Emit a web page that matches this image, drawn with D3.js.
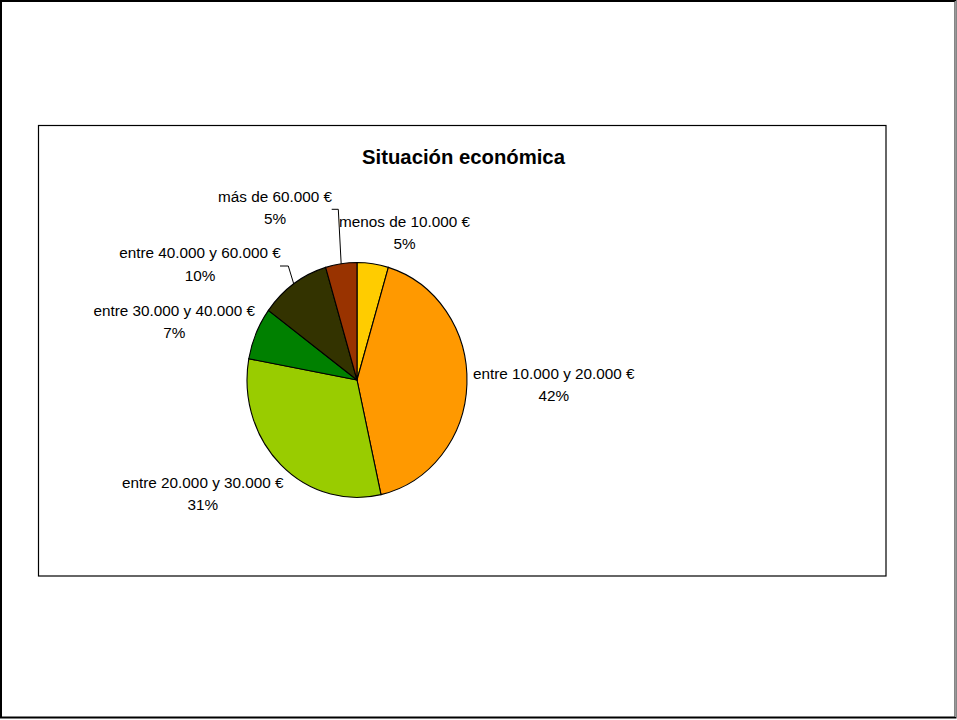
<!DOCTYPE html>
<html>
<head>
<meta charset="utf-8">
<script src="https://cdn.jsdelivr.net/npm/d3@7"></script>
<style>
  html, body { margin: 0; padding: 0; background: #fff; }
  svg { display: block; }
  text { font-family: "Liberation Sans", Arial, sans-serif; fill: #000; }
</style>
</head>
<body>
<svg id="chart" width="957" height="720"></svg>
<script>
// ---- data ----
const title = "Situación económica";
const categories = [
  "menos de 10.000 €",
  "entre 10.000 y 20.000 €",
  "entre 20.000 y 30.000 €",
  "entre 30.000 y 40.000 €",
  "entre 40.000 y 60.000 €",
  "más de 60.000 €"
];
const values = [4.6, 41.9, 31.4, 7.2, 10.3, 4.6];
const colors = ["#FFCC00", "#FF9900", "#99CC00", "#008000", "#333300", "#993300"];

// ---- layout (label placement relative to pie centre; leader elbows) ----
const labelOffsets = [
  [47.5, -153.5],
  [196.8, -1.5],
  [-154.2, 107.7],
  [-182.8, -64.5],
  [-157, -121.7],
  [-82, -178.3]
];
// leader lines: [elbowX, elbowY, endX] relative to centre, null = none
const leaders = [null, null, null, null, [-68.7, -114, -77], [-18.7, -170.7, -25.3]];

const svg = d3.select("#chart");
const W = 957, H = 720;

// outer page frame
svg.append("rect").attr("x", 1).attr("y", 1).attr("width", W - 2.5).attr("height", H - 3.5)
  .attr("fill", "#fff").attr("stroke", "#000").attr("stroke-width", 2);
svg.append("line").attr("x1", W - 1.5).attr("x2", W - 1.5).attr("y1", 1).attr("y2", H - 3)
  .attr("stroke", "#999").attr("stroke-width", 1.5);

// chart area box
svg.append("rect").attr("x", 38.5).attr("y", 125.5).attr("width", 847.5).attr("height", 450.5)
  .attr("fill", "#fff").attr("stroke", "#000").attr("stroke-width", 1.2);

// title
svg.append("text").attr("x", 463.5).attr("y", 163.5).attr("text-anchor", "middle")
  .style("font-size", "20.3px").style("font-weight", "bold").text(title);

const cx = 357, cy = 380, r = 110, sy = 1.068;

const pie = d3.pie().sort(null).value(d => d)(values);
const arc = d3.arc().innerRadius(0).outerRadius(r);
const total = d3.sum(values);

const g = svg.append("g").attr("transform", `translate(${cx},${cy}) scale(1,${sy})`);
g.selectAll("path").data(pie).join("path")
  .attr("d", arc)
  .attr("fill", (d, i) => colors[i])
  .attr("stroke", "#000")
  .attr("stroke-width", 1.1)
  .attr("vector-effect", "non-scaling-stroke");

// leader lines
pie.forEach((d, i) => {
  const L = leaders[i];
  if (!L) return;
  const a = (d.startAngle + d.endAngle) / 2;
  const px = cx + r * Math.sin(a), py = cy - r * Math.cos(a) * sy;
  svg.append("polyline")
    .attr("points", `${px},${py} ${cx + L[0]},${cy + L[1]} ${cx + L[2]},${cy + L[1]}`)
    .attr("fill", "none").attr("stroke", "#000").attr("stroke-width", 1);
});

// labels
const lab = svg.append("g");
pie.forEach((d, i) => {
  const [ox, oy] = labelOffsets[i];
  const t = lab.append("text").attr("text-anchor", "middle").style("font-size", "15.3px");
  t.append("tspan").attr("x", cx + ox).attr("y", cy + oy).text(categories[i]);
  t.append("tspan").attr("x", cx + ox).attr("y", cy + oy + 22.5)
    .text(Math.round(values[i] / total * 100) + "%");
});
</script>
</body>
</html>
